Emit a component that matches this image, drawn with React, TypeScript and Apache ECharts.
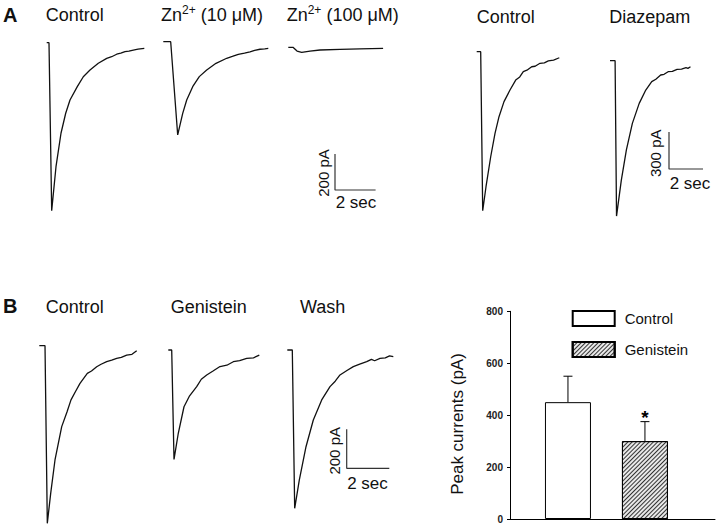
import { useEffect, useRef } from "react";
import * as echarts from "echarts";

// ---------------- DATA ----------------
// Whole-cell current traces: [time (s), current (pA)] relative to the holding baseline
const traceAControl: [number, number][] = [
  [0, 0], [0.113, 0], [0.246, -933], [0.458, -689], [0.704, -503], [0.936, -392], [1.148, -318],
  [1.507, -244], [1.803, -189], [2.133, -152], [2.542, -114], [2.956, -87], [3.2, -78], [3.448, -64],
  [3.65, -58], [3.857, -50], [4.05, -47], [4.266, -41], [4.5, -36], [4.808, -31],
];
const traceAZn10: [number, number][] = [
  [0, 0], [0.364, 0], [0.709, -518], [0.956, -398], [1.153, -324], [1.448, -250], [1.773, -194],
  [2.138, -157], [2.596, -120], [3.123, -92], [3.4, -82], [3.695, -70], [4.0, -63], [4.271, -56],
  [4.5, -48], [4.764, -42], [5.0, -40], [5.172, -37],
];
const traceAZn100: [number, number][] = [
  [0, 0], [0.23, 0], [0.43, -21], [0.66, -28], [1.07, -21], [1.56, -15], [2.55, -12], [3.53, -9], [4.67, -6],
];
const traceAControl2: [number, number][] = [
  [0, 0], [0.195, 0], [0.293, -1290], [0.454, -1095], [0.683, -852], [0.893, -662], [1.088, -527],
  [1.332, -405], [1.624, -311], [1.902, -230], [2.1, -205], [2.273, -162], [2.45, -150], [2.683, -122],
  [2.85, -118], [3.088, -94], [3.3, -90], [3.493, -75], [3.75, -68], [4.029, -49],
];
const traceADiazepam: [number, number][] = [
  [0, 0], [0.278, 0], [0.356, -1260], [0.618, -968], [0.894, -724], [1.22, -508], [1.593, -346],
  [1.951, -238], [2.276, -170], [2.5, -150], [2.764, -116], [2.95, -110], [3.171, -89], [3.4, -86],
  [3.659, -70], [3.9, -68], [4.146, -57], [4.25, -62], [4.39, -49],
];
const traceBControl: [number, number][] = [
  [0, 0], [0.268, 0], [0.376, -911], [0.535, -757], [0.737, -586], [1.052, -415], [1.3, -340],
  [1.488, -278], [1.7, -235], [1.911, -193], [2.254, -142], [2.45, -130], [2.695, -108], [2.9, -95],
  [3.164, -82], [3.4, -74], [3.634, -65], [3.85, -60], [4.103, -48], [4.35, -44], [4.573, -26],
];
const traceBGenistein: [number, number][] = [
  [0, 0], [0.16, 0], [0.268, -561], [0.469, -427], [0.737, -291], [1.0, -235], [1.333, -188],
  [1.55, -150], [1.803, -128], [2.1, -108], [2.427, -85], [2.75, -78], [3.052, -60], [3.35, -55],
  [3.681, -43], [4.0, -40], [4.272, -26],
];
const traceBWash: [number, number][] = [
  [0, 0], [0.235, 0], [0.347, -812], [0.563, -667], [0.878, -496], [1.221, -359], [1.615, -256],
  [2.005, -188], [2.25, -160], [2.474, -128], [2.8, -105], [3.099, -85], [3.4, -72], [3.728, -60],
  [3.95, -48], [4.1, -55], [4.352, -43], [4.6, -40], [4.8, -30], [4.977, -34],
];

// Scale bars
const scaleTime = 2; // sec
const scaleCurrentALeft = 200; // pA
const scaleCurrentARight = 300; // pA
const scaleCurrentB = 200; // pA

// Titles (rich-text markup for superscripts)
const panelATitles = ["Control", "{m|Zn}{s|2+}{m| (10 μM)}", "{m|Zn}{s|2+}{m| (100 μM)}", "Control", "Diazepam"];
const panelBTitles = ["Control", "Genistein", "Wash"];

// Bar chart
const barCategories = ["Control", "Genistein"];
const barValues = [450, 300];
const barErrorTops = [550, 375];
const barSignificance = ["", "*"];
const barAxisMax = 800;
const barAxisInterval = 200;
const barAxisName = "Peak currents (pA)";

// ---------------- LAYOUT ----------------
const FONT = '"Liberation Sans", Arial, Helvetica, sans-serif';
const groupAL = { sx: 20.3, sy: 0.18, iMin: -1500, iMax: 100 };
const groupAR = { sx: 20.5, sy: 0.1233, iMin: -1500, iMax: 100 };
const groupB = { sx: 21.3, sy: 0.195, iMin: -880, iMax: 20 };
const T_MAX = 6;

const traces = [
  { id: "tA1", data: traceAControl, x0: 46.7, y0: 42.7, g: groupAL },
  { id: "tA2", data: traceAZn10, x0: 163.3, y0: 41.7, g: groupAL },
  { id: "tA3", data: traceAZn100, x0: 288.3, y0: 47.3, g: groupAL },
  { id: "tA4", data: traceAControl2, x0: 476.7, y0: 51.7, g: groupAR },
  { id: "tA5", data: traceADiazepam, x0: 610, y0: 60.7, g: groupAR },
  { id: "tB1", data: traceBControl, x0: 39.3, y0: 345.7, g: groupB },
  { id: "tB2", data: traceBGenistein, x0: 168.3, y0: 350, g: groupB },
  { id: "tB3", data: traceBWash, x0: 287.3, y0: 350, g: groupB },
];

const scaleBars = [
  { id: "sA1", amp: scaleCurrentALeft, cx: 335, cy: 190, g: groupAL, ampLabel: [323, 173], tLabel: [356, 202] },
  { id: "sA2", amp: scaleCurrentARight, cx: 669, cy: 169, g: groupAR, ampLabel: [655.8, 153.3], tLabel: [690, 183.7] },
  { id: "sB", amp: scaleCurrentB, cx: 346.7, cy: 468.3, g: groupB, ampLabel: [334.5, 450.8], tLabel: [367.5, 483.3] },
];

const titlePosA = [[45.7, 15], [161, 15], [286.7, 15], [476.7, 16.5], [609.3, 16.5]];
const titlePosB = [[45.7, 306.5], [170.7, 306.5], [300, 306.5]];

function buildOption() {
  const grid: any[] = [];
  const xAxis: any[] = [];
  const yAxis: any[] = [];
  const series: any[] = [];
  const graphic: any[] = [];

  const addHiddenGrid = (left: number, top: number, width: number, height: number, xr: number[], yr: number[]) => {
    grid.push({ left, top, width, height, containLabel: false });
    const i = grid.length - 1;
    xAxis.push({ gridIndex: i, type: "value", min: xr[0], max: xr[1], show: false });
    yAxis.push({ gridIndex: i, type: "value", min: yr[0], max: yr[1], show: false });
    return i;
  };

  traces.forEach((tr) => {
    const { sx, sy, iMin, iMax } = tr.g;
    const i = addHiddenGrid(tr.x0, tr.y0 - iMax * sy, T_MAX * sx, (iMax - iMin) * sy, [0, T_MAX], [iMin, iMax]);
    series.push({
      type: "line", id: tr.id, name: tr.id, xAxisIndex: i, yAxisIndex: i, data: tr.data,
      showSymbol: false, symbol: "none", silent: true, clip: false,
      lineStyle: { color: "#111", width: 1.3 },
    });
  });

  scaleBars.forEach((sb) => {
    const { sx, sy } = sb.g;
    const yMax = 400;
    const i = addHiddenGrid(sb.cx, sb.cy - yMax * sy, 3 * sx, yMax * sy, [0, 3], [0, yMax]);
    series.push({
      type: "line", id: sb.id, name: sb.id, xAxisIndex: i, yAxisIndex: i,
      data: [[0, sb.amp], [0, 0], [scaleTime, 0]],
      showSymbol: false, symbol: "none", silent: true, clip: false,
      lineStyle: { color: "#333", width: 1.2 },
    });
    graphic.push({
      type: "text", x: sb.ampLabel[0], y: sb.ampLabel[1], rotation: Math.PI / 2,
      style: { text: `${sb.amp} pA`, font: `15px ${FONT}`, fill: "#111", align: "center", verticalAlign: "middle" },
    });
    graphic.push({
      type: "text", x: sb.tLabel[0], y: sb.tLabel[1],
      style: { text: `${scaleTime} sec`, font: `17px ${FONT}`, fill: "#111", align: "center", verticalAlign: "middle" },
    });
  });

  const titleStyle = (text: string) => ({
    text,
    fill: "#111",
    font: `18px ${FONT}`,
    align: "left",
    verticalAlign: "middle",
    rich: {
      m: { fontSize: 18, fontFamily: FONT, lineHeight: 18, fill: "#111" },
      s: { fontSize: 12, fontFamily: FONT, lineHeight: 12, padding: [0, 0, 10, 0], fill: "#111" },
    },
  });
  panelATitles.forEach((t, k) => {
    graphic.push({ type: "text", x: titlePosA[k][0], y: titlePosA[k][1], style: titleStyle(t) });
  });
  panelBTitles.forEach((t, k) => {
    graphic.push({ type: "text", x: titlePosB[k][0], y: titlePosB[k][1], style: titleStyle(t) });
  });
  graphic.push({ type: "text", x: 3, y: 14.5, style: { text: "A", font: `bold 20px ${FONT}`, fill: "#111", verticalAlign: "middle" } });
  graphic.push({ type: "text", x: 3, y: 306, style: { text: "B", font: `bold 20px ${FONT}`, fill: "#111", verticalAlign: "middle" } });
  graphic.push({
    type: "text", x: 457, y: 424, rotation: Math.PI / 2,
    style: { text: barAxisName, font: `17px ${FONT}`, fill: "#111", align: "center", verticalAlign: "middle" },
  });

  // Bar chart grid
  grid.push({ left: 510, top: 311.3, width: 205, height: 207.7, containLabel: false });
  const b = grid.length - 1;
  xAxis.push({
    gridIndex: b, type: "value", min: 0.247, max: 2.91,
    axisLine: { show: true, lineStyle: { color: "#000", width: 1 } },
    axisTick: { show: false }, axisLabel: { show: false }, splitLine: { show: false },
  });
  yAxis.push({
    gridIndex: b, type: "value", min: 0, max: barAxisMax, interval: barAxisInterval,
    axisLine: { show: true, lineStyle: { color: "#000", width: 1 } },
    axisTick: { show: true, length: 3, lineStyle: { color: "#000" } },
    axisLabel: { fontSize: 10, fontWeight: "bold", color: "#222", fontFamily: FONT, margin: 7 },
    splitLine: { show: false },
  });

  barCategories.forEach((c, k) => {
    const hatched = k === 1;
    series.push({
      type: "bar", name: c, xAxisIndex: b, yAxisIndex: b,
      data: [[k + 1, barValues[k]]], barWidth: 46, barGap: "-100%", silent: true,
      itemStyle: hatched
        ? {
            color: "#e8e8e8", borderColor: "#000", borderWidth: 1,
            decal: {
              symbol: "rect", symbolSize: 1, color: "#333", backgroundColor: "#e8e8e8",
              dashArrayX: [1, 0], dashArrayY: [1, 2], rotation: -Math.PI / 4,
            },
          }
        : { color: "#fff", borderColor: "#000", borderWidth: 1 },
    });
  });

  series.push({
    type: "custom", xAxisIndex: b, yAxisIndex: b, silent: true, clip: false,
    data: barValues.map((v, k) => [k + 1, v, barErrorTops[k]]),
    renderItem: (params: any, api: any) => {
      const x = api.value(0);
      const p0 = api.coord([x, api.value(1)]);
      const p1 = api.coord([x, api.value(2)]);
      const children: any[] = [
        { type: "line", shape: { x1: p0[0], y1: p0[1], x2: p1[0], y2: p1[1] }, style: { stroke: "#000", lineWidth: 1 } },
        { type: "line", shape: { x1: p1[0] - 4.5, y1: p1[1], x2: p1[0] + 4.5, y2: p1[1] }, style: { stroke: "#000", lineWidth: 1 } },
      ];
      const sig = barSignificance[params.dataIndex];
      if (sig) {
        children.push({
          type: "text",
          style: { text: sig, x: p1[0], y: p1[1] - 4, align: "center", verticalAlign: "middle", font: `bold 19px ${FONT}`, fill: "#000" },
        });
      }
      return { type: "group", children };
    },
  });

  return {
    animation: false,
    backgroundColor: "#fff",
    textStyle: { fontFamily: FONT },
    grid, xAxis, yAxis, series, graphic,
    legend: {
      data: barCategories, orient: "vertical", left: 571.7, top: 310, padding: 0,
      itemWidth: 42, itemHeight: 15, itemGap: 14, selectedMode: false, icon: "rect",
      textStyle: { fontSize: 15, color: "#111", fontFamily: FONT, lineHeight: 15, padding: [0, 0, 0, 5] },
    },
  };
}

export default function App() {
  const ref = useRef<HTMLDivElement>(null);
  useEffect(() => {
    document.body.style.margin = "0";
    const chart = echarts.init(ref.current!, undefined, { renderer: "svg" });
    chart.setOption(buildOption() as any);
    return () => chart.dispose();
  }, []);
  return (
    <div
      ref={ref}
      style={{ position: "absolute", left: 0, top: 0, width: 720, height: 526, background: "#fff" }}
    />
  );
}
